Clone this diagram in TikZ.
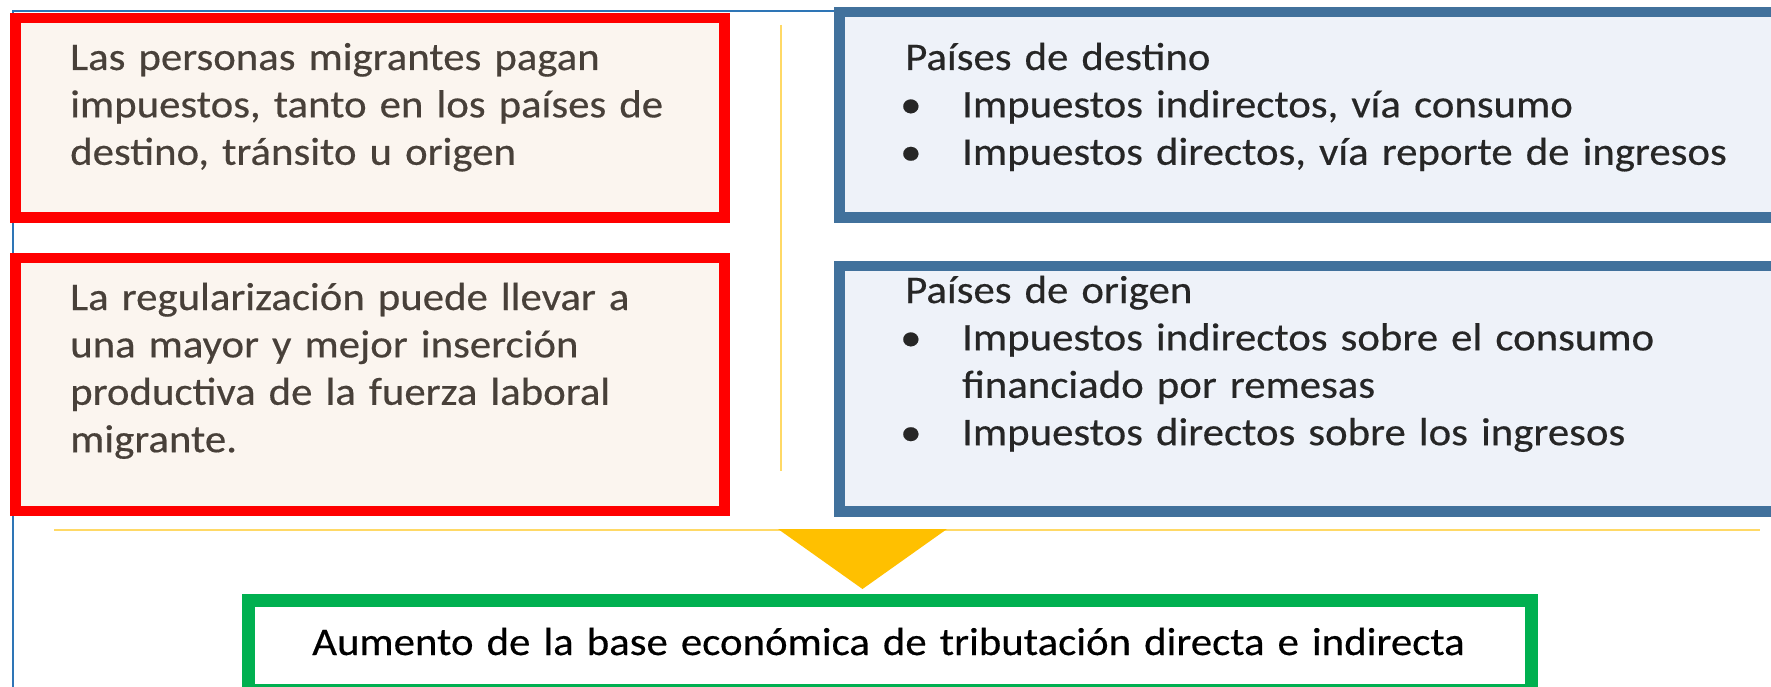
\documentclass[tikz,border=0pt]{standalone}
\usepackage{fontspec}
\setmainfont{Carlito}[FakeStretch=1.092,FakeBold=0.4]
\definecolor{frameblue}{RGB}{46,117,182}
\definecolor{boxred}{RGB}{255,0,0}
\definecolor{cream}{RGB}{251,245,239}
\definecolor{boxblue}{RGB}{65,113,156}
\definecolor{paleblue}{RGB}{238,242,249}
\definecolor{lightyellow}{RGB}{255,217,102}
\definecolor{gold}{RGB}{255,192,0}
\definecolor{boxgreen}{RGB}{0,176,80}
\definecolor{browntext}{RGB}{72,64,57}
\definecolor{darktext}{RGB}{38,38,38}
\begin{document}
\begin{tikzpicture}[x=1pt,y=-1pt,
  redbox/.style={draw=boxred,fill=cream,line width=10.5pt,rectangle,inner sep=0pt},
  bluebox/.style={draw=boxblue,fill=paleblue,line width=10.5pt,rectangle,inner sep=0pt},
  greenbox/.style={draw=boxgreen,fill=white,line width=13pt,rectangle,inner sep=0pt},
  txt/.style={anchor=base west,inner sep=0pt,text width=860pt,align=left,
    font=\fontsize{39.2}{47.4}\selectfont},
  thinline/.style={line width=2pt},
]
\useasboundingbox (0,0) rectangle (1771,687);
\clip (0,0) rectangle (1771,687);
\fill[white] (0,0) rectangle (1771,687);

% thin blue frame line
\draw[thinline,draw=frameblue] (13,700) -- (13,11.3) -- (834,11.3);

% yellow guide lines
\draw[thinline,draw=lightyellow] (781,25) -- (781,471);
\draw[thinline,draw=lightyellow] (54,530) -- (1760,530);

% boxes
\node[redbox,minimum width=709.4pt,minimum height=199.4pt] (r1) at (370,117.7) {};
\node[redbox,minimum width=709.4pt,minimum height=253pt] (r2) at (370,384.5) {};
\node[bluebox,minimum width=960pt,minimum height=205.5pt] (b1) at (1319.5,114.75) {};
\node[bluebox,minimum width=960pt,minimum height=245.5pt] (b2) at (1319.5,388.75) {};
\node[greenbox,minimum width=1282.5pt,minimum height=90pt] (g) at (889.75,645.5) {};

% downward triangle
\fill[gold] (778,529) -- (947,529) -- (862.5,589) -- cycle;

% texts
\node[txt,text=browntext] (t1) at (70,70) {Las personas migrantes pagan\\impuestos, tanto en los países de\\destino, tránsito u origen};
\node[txt,text=browntext] (t2) at (70,310) {La regularización puede llevar a\\una mayor y mejor inserción\\productiva de la fuerza laboral\\migrante.};
\node[txt,text=darktext] (t3) at (905,70) {Países de destino\\
  \hspace*{-5pt}\makebox[62pt][l]{•}Impuestos indirectos, vía consumo\\
  \hspace*{-5pt}\makebox[62pt][l]{•}Impuestos directos, vía reporte de ingresos};
\node[txt,text=darktext] (t4) at (905,303) {Países de origen\\
  \hspace*{-5pt}\makebox[62pt][l]{•}Impuestos indirectos sobre el consumo\\
  \hspace*{57pt}financiado por remesas\\
  \hspace*{-5pt}\makebox[62pt][l]{•}Impuestos directos sobre los ingresos};
\node[txt,text=black,text width=1200pt] (t5) at (312,655) {Aumento de la base económica de tributación directa e indirecta};
\end{tikzpicture}
\end{document}
